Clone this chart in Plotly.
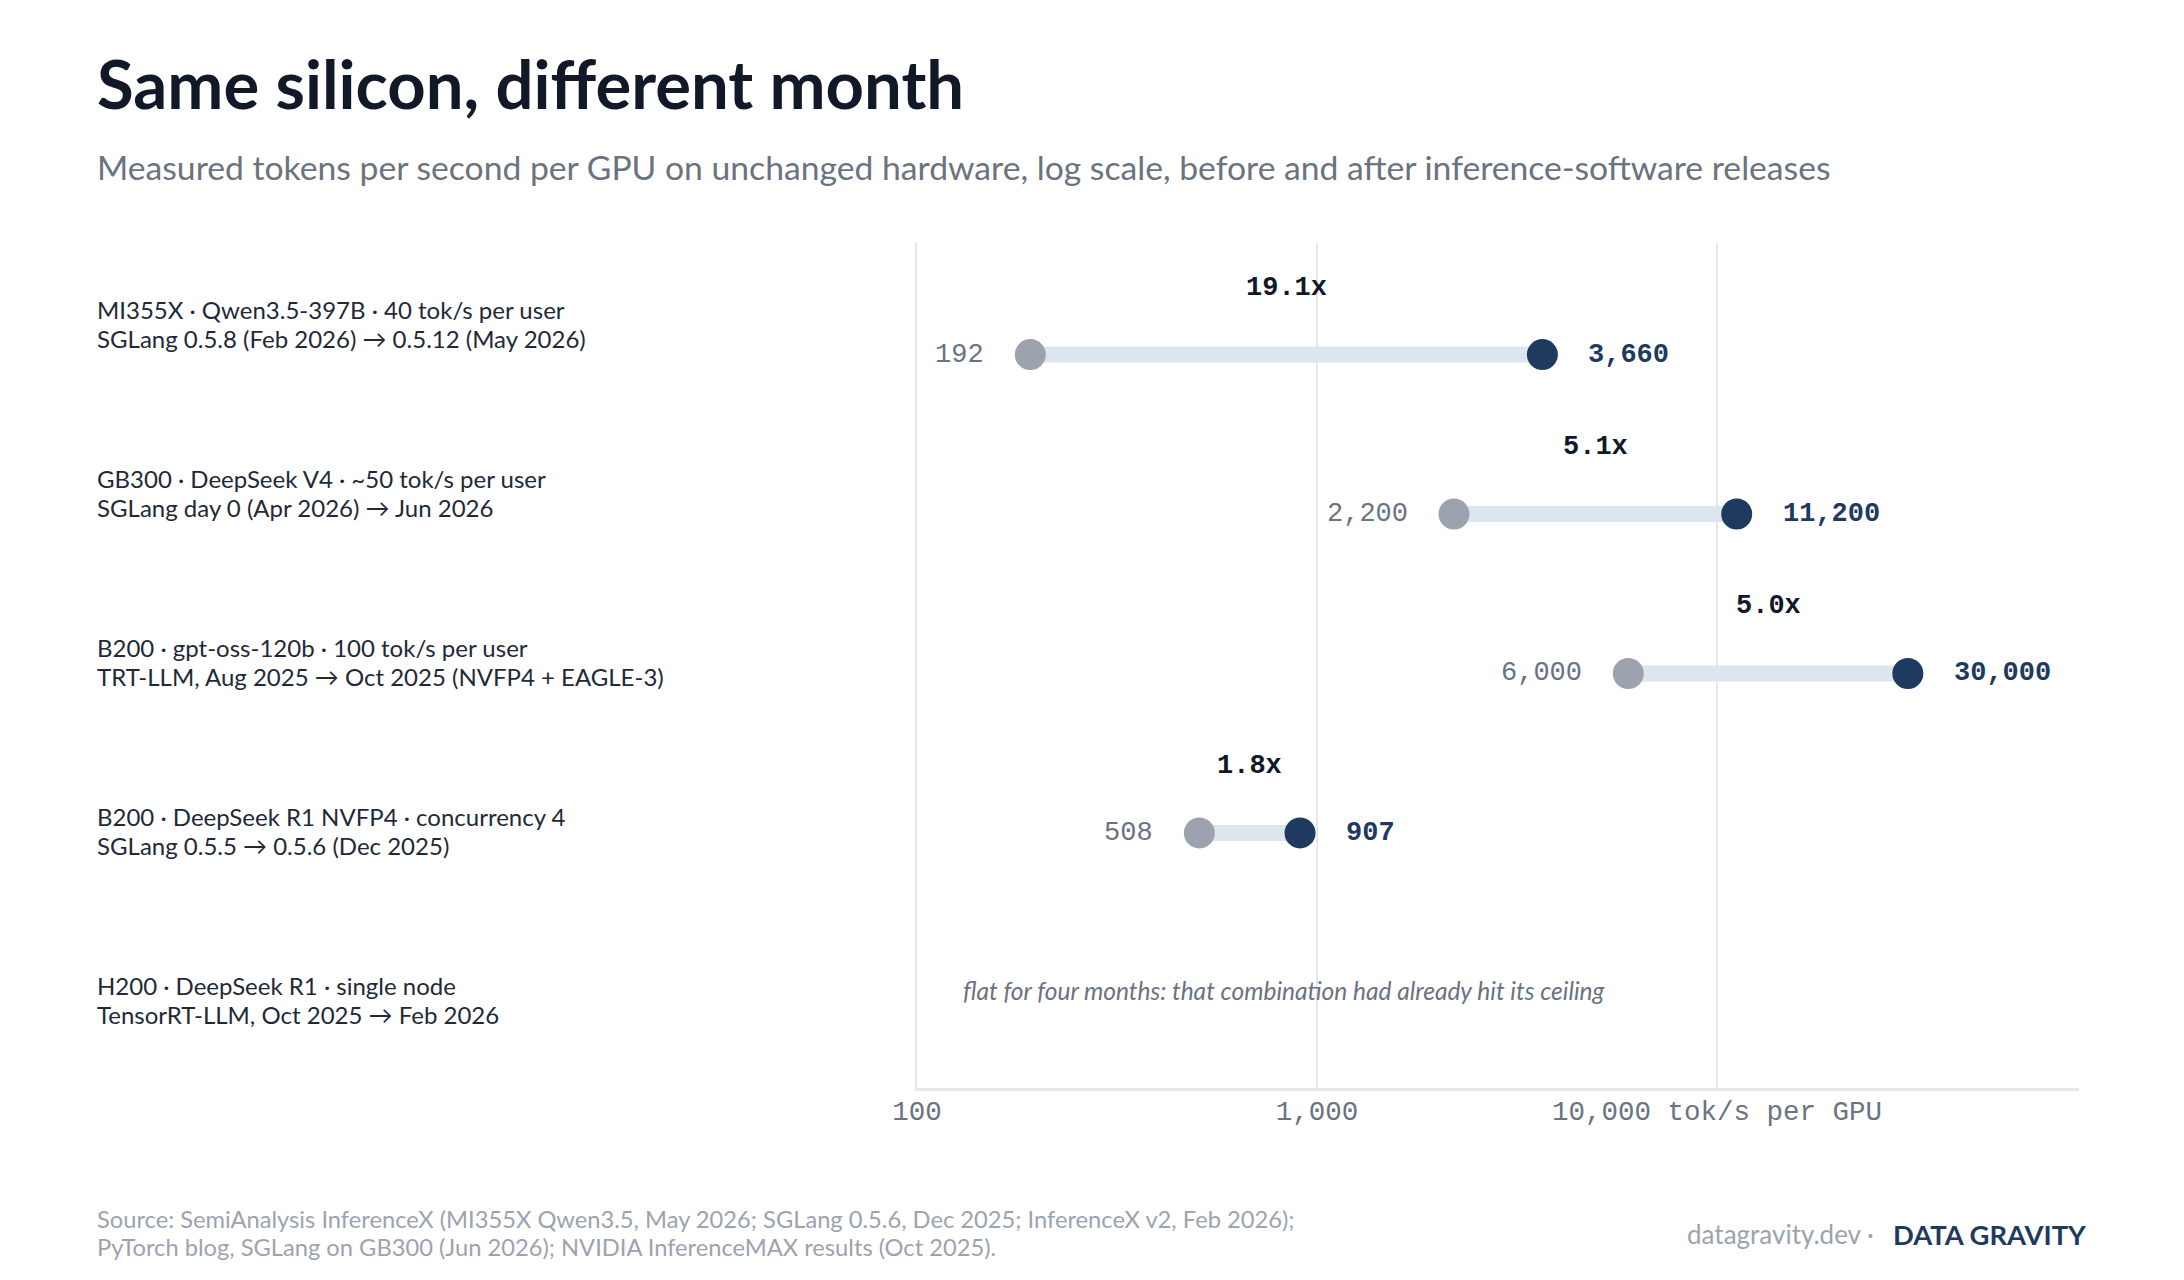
import math

import plotly.graph_objects as go

# rows top to bottom
setup = [
    "MI355X · Qwen3.5-397B · 40 tok/s per user",
    "GB300 · DeepSeek V4 · ~50 tok/s per user",
    "B200 · gpt-oss-120b · 100 tok/s per user",
    "B200 · DeepSeek R1 NVFP4 · concurrency 4",
    "H200 · DeepSeek R1 · single node",
]
software = [
    "SGLang 0.5.8 (Feb 2026) → 0.5.12 (May 2026)",
    "SGLang day 0 (Apr 2026) → Jun 2026",
    "TRT-LLM, Aug 2025 → Oct 2025 (NVFP4 + EAGLE-3)",
    "SGLang 0.5.5 → 0.5.6 (Dec 2025)",
    "TensorRT-LLM, Oct 2025 → Feb 2026",
]
before = [192, 2200, 6000, 508, None]
after = [3660, 11200, 30000, 907, None]
flat_note = "flat for four months: that combination had already hit its ceiling"

tick_vals = [100, 1000, 10000]
tick_text = ["100", "1,000", "10,000 tok/s per GPU"]

title = "Same silicon, different month"
subtitle = ("Measured tokens per second per GPU on unchanged hardware, log scale, "
            "before and after inference-software releases")
source_lines = [
    "Source: SemiAnalysis InferenceX (MI355X Qwen3.5, May 2026; SGLang 0.5.6, Dec 2025; "
    "InferenceX v2, Feb 2026);",
    "PyTorch blog, SGLang on GB300 (Jun 2026); NVIDIA InferenceMAX results (Oct 2025).",
]

NAVY = "#1e3a5f"
GREY_DOT = "#9ca3af"
BAR = "#dde5ee"
INK = "#111827"
TEXT = "#1f2937"
MUTED = "#6b7280"
FAINT = "#9ca3af"
GRID = "#e5e7eb"
SANS = "Lato"
MONO = "Liberation Mono"
LEFT = -0.7078  # left text column, in paper units
LINE_GAP = 14.25  # half the distance between two text lines, px

rows = list(range(len(setup)))
measured = [i for i in rows if before[i] is not None]

fig = go.Figure()

# connecting bars
bx, by = [], []
for i in measured:
    bx += [before[i], after[i], None]
    by += [i, i, None]
fig.add_trace(go.Scatter(
    x=bx, y=by, mode="lines",
    line=dict(color=BAR, width=16),
    hoverinfo="skip", showlegend=False,
))
fig.add_trace(go.Scatter(
    x=[before[i] for i in measured], y=measured, mode="markers",
    marker=dict(size=31, color=GREY_DOT, line=dict(width=0)),
    name="before", showlegend=False,
))
fig.add_trace(go.Scatter(
    x=[after[i] for i in measured], y=measured, mode="markers",
    marker=dict(size=31, color=NAVY, line=dict(width=0)),
    name="after", showlegend=False,
))

ann = []
for i in measured:
    lb, la = math.log10(before[i]), math.log10(after[i])
    ann.append(dict(x=lb, y=i, xref="x", yref="y", text=f"{before[i]:,}",
                    xanchor="right", yanchor="middle", xshift=-44, showarrow=False,
                    font=dict(family=MONO, size=27, color=MUTED)))
    ann.append(dict(x=la, y=i, xref="x", yref="y", text=f"<b>{after[i]:,}</b>",
                    xanchor="left", yanchor="middle", xshift=44, showarrow=False,
                    font=dict(family=MONO, size=27, color=NAVY)))
    ann.append(dict(x=(lb + la) / 2, y=i, xref="x", yref="y",
                    text=f"<b>{after[i] / before[i]:.1f}x</b>",
                    xanchor="center", yanchor="middle", yshift=67, showarrow=False,
                    font=dict(family=MONO, size=27, color=INK)))

for i in rows:
    if before[i] is None:
        ann.append(dict(x=0, y=i, xref="paper", yref="y", text=f"<i>{flat_note}</i>",
                        xanchor="left", yanchor="middle", xshift=44, yshift=2,
                        showarrow=False,
                        font=dict(family=SANS, size=24.5, color=MUTED)))

# row labels on the left, two lines each
for i in rows:
    yc = 1 - (i + 0.5) / len(rows)
    for txt, shift in ((setup[i], LINE_GAP), (software[i], -LINE_GAP)):
        ann.append(dict(x=LEFT, y=yc, xref="paper", yref="paper", text=txt,
                        xanchor="left", yanchor="middle", yshift=shift + 3.5,
                        showarrow=False, font=dict(family=SANS, size=24, color=TEXT)))

ann.append(dict(x=LEFT, y=1.189, xref="paper", yref="paper", text=f"<b>{title}</b>",
                xanchor="left", yanchor="middle", showarrow=False,
                font=dict(family=SANS, size=67, color=INK)))
ann.append(dict(x=LEFT, y=1.090, xref="paper", yref="paper", text=subtitle,
                xanchor="left", yanchor="middle", showarrow=False,
                font=dict(family=SANS, size=33.7, color=MUTED)))
for txt, shift in zip(source_lines, (LINE_GAP, -LINE_GAP)):
    ann.append(dict(x=LEFT, y=-0.175, xref="paper", yref="paper", text=txt,
                    xanchor="left", yanchor="middle", yshift=shift + 3, showarrow=False,
                    font=dict(family=SANS, size=23.7, color=FAINT)))

# brand block, bottom right
ann.append(dict(x=1.008, y=-0.1787, xref="paper", yref="paper",
                text="<b>DATA GRAVITY</b>", xanchor="right", yanchor="middle",
                yshift=5, showarrow=False,
                font=dict(family=SANS, size=27.4, color=NAVY)))
ann.append(dict(x=1.008, y=-0.1787, xref="paper", yref="paper",
                text="datagravity.dev ·", xanchor="right", yanchor="middle",
                xshift=-212, yshift=5, showarrow=False,
                font=dict(family=SANS, size=26, color=FAINT)))

# the page body keeps its 8px margin, so the figure is 8px smaller each way
fig.update_layout(
    width=2176, height=1272, autosize=False,
    margin=dict(l=909, r=105, t=235, b=192),
    paper_bgcolor="white", plot_bgcolor="white",
    annotations=ann,
    showlegend=False,
)
fig.update_xaxes(
    type="log", range=[2, 4.905],
    tickvals=tick_vals, ticktext=tick_text,
    tickfont=dict(family=MONO, size=27.5, color=MUTED),
    ticklabelstandoff=-4,
    showgrid=True, gridcolor=GRID, gridwidth=1.5,
    showline=True, linecolor=GRID, linewidth=3,
    ticks="", zeroline=False,
)
fig.update_yaxes(
    range=[4.6, -0.7], showticklabels=False,
    showgrid=False, zeroline=False,
    showline=True, linecolor=GRID, linewidth=1.5,
)

fig.write_html("out.html")
